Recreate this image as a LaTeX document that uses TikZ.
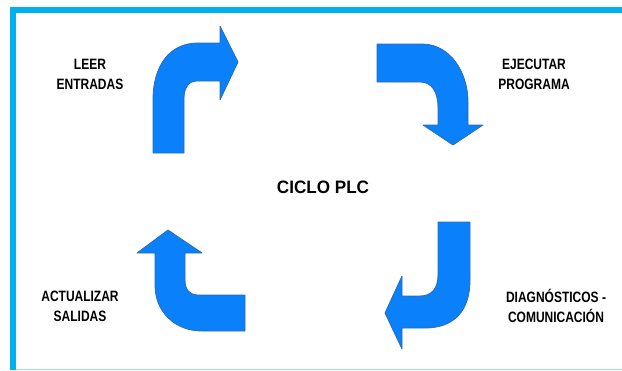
\documentclass[tikz,border=0pt]{standalone}
\usepackage{fontspec}
\setmainfont{Liberation Sans}
\usetikzlibrary{positioning}
\definecolor{marco}{HTML}{00B0F0}
\definecolor{marcoclaro}{HTML}{9ED9F5}
\definecolor{azulflecha}{HTML}{0A80FA}
\definecolor{bordeflecha}{HTML}{2B6CB8}

\begin{document}
\begin{tikzpicture}[x=1pt,y=-1pt,
  flecha/.style={fill=azulflecha, draw=bordeflecha, line width=0.8pt, line join=round},
  etiqueta/.style={font=\bfseries\fontsize{15}{20}\selectfont, align=center, xscale=0.8}]
  \useasboundingbox (0,0) rectangle (622,370);

  % Draw the frame
  \fill[marco] (10,7) rectangle (622,13);
  \fill[marco] (10,7) rectangle (16,370);
  \draw[marcoclaro, line width=1pt] (16,369) -- (622,369);

  % Arrow up then right (leer entradas)
  \draw[flecha] (153,153) -- (153,100) .. controls (153,65) and (170,43) .. (198,43)
    -- (220,43) -- (220,26) -- (238,62) -- (220,100) -- (220,81) -- (196,81)
    .. controls (189,81) and (184,88) .. (184,98) -- (184,153) -- cycle;

  % Arrow right then down (ejecutar programa)
  \draw[flecha] (377,44) -- (422,44) .. controls (450,44) and (468,72) .. (468,102)
    -- (468,125) -- (483,125) -- (453,145) -- (423,125) -- (438,125) -- (438,108)
    .. controls (438,92) and (432,82) .. (420,82) -- (377,82) -- cycle;

  % Arrow down then left (diagnosticos)
  \draw[flecha] (438,222) -- (470,222) -- (470,280) .. controls (470,310) and (455,328) .. (425,328)
    -- (402,328) -- (402,349) -- (385,313) -- (402,276) -- (402,296) -- (420,296)
    .. controls (432,296) and (438,288) .. (438,275) -- cycle;

  % Arrow left then up (actualizar salidas)
  \draw[flecha] (245,331) -- (202,331) .. controls (175,331) and (155,312) .. (155,285)
    -- (155,253) -- (137,253) -- (168,230) -- (202,253) -- (185,253) -- (185,280)
    .. controls (185,290) and (190,295) .. (198,295) -- (245,295) -- cycle;

  % Labels
  \node[etiqueta] (leer) at (90,74) {LEER\\ENTRADAS};
  \node[etiqueta] (ejecutar) at (534,74) {EJECUTAR\\PROGRAMA};
  \node[font=\bfseries\fontsize{18}{20}\selectfont, xscale=0.95] (ciclo) at (323,187) {CICLO PLC};
  \node[etiqueta] (actualizar) at (80,306) {ACTUALIZAR\\SALIDAS};
  \node[etiqueta] (diagnostico) at (556,306) {DIAGNÓSTICOS -\\COMUNICACIÓN};
\end{tikzpicture}
\end{document}
